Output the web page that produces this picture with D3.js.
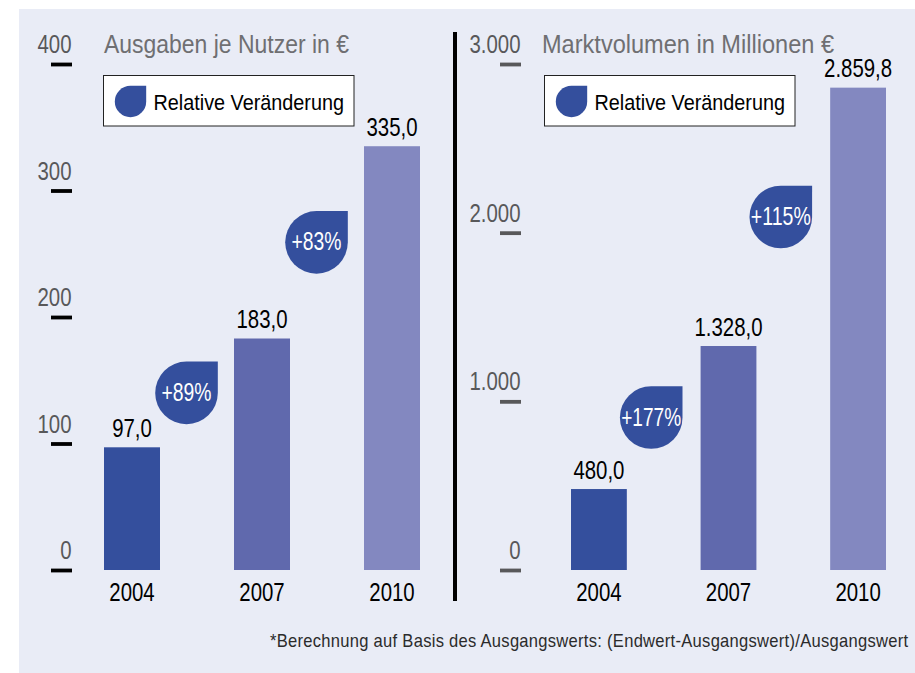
<!DOCTYPE html>
<html><head><meta charset="utf-8">
<script src="https://cdn.jsdelivr.net/npm/d3@7"></script>
<style>
html,body{margin:0;padding:0;background:#fff}
svg{display:block}
text{font-family:"Liberation Sans",sans-serif}
</style></head><body>
<svg id="c" width="915" height="673"></svg>
<script>
const years = ["2004","2007","2010"];
const spendValues = [97.0,183.0,335.0];
const marketValues = [480.0,1328.0,2859.8];
const spendTicks = [0,100,200,300,400];
const marketTicks = [0,1000,2000,3000];
const spendChanges = ["+89%","+83%"];
const marketChanges = ["+177%","+115%"];
const spendChangeLevels = [140,259];
const marketChangeLevels = [904,2093];
const barColors = ["#344f9d","#6069ad","#8388c0"];
const spendTitle = "Ausgaben je Nutzer in €";
const marketTitle = "Marktvolumen in Millionen €";
const legendLabel = "Relative Veränderung";
const footnote = "*Berechnung auf Basis des Ausgangswerts: (Endwert-Ausgangswert)/Ausgangswert";

const svg = d3.select("#c");
svg.append("rect").attr("x",19).attr("y",9).attr("width",896).attr("height",664).attr("fill","#e9ecf6");
const deNum = v => d3.format(",")(v).replace(/,/g,".");
const deVal = v => d3.format(",.1f")(v).replace(/[.,]/g,m=>m==="."?",":".");
const drop = r => `M${r},${-r}L0,${-r}A${r},${r} 0 1 0 ${r},0Z`;
// condense glyphs horizontally: the installed families have no narrow cut
const cond = (sel,f) => sel.each(function(){
  this.setAttribute("textLength",this.getComputedTextLength()*f);
  this.setAttribute("lengthAdjust","spacingAndGlyphs");
});
const fit = (sel,w) => sel.attr("textLength",w).attr("lengthAdjust","spacingAndGlyphs");

function panel(o){
  const y = d3.scaleLinear().domain([0,o.max]).range([570,64]);
  const x = d3.scaleBand().domain(years).range(o.xr).paddingInner(o.pad).paddingOuter(0);
  const g = svg.append("g");
  const ax = g.append("g").attr("transform",`translate(${o.tx},0)`)
    .call(d3.axisLeft(y).tickValues(o.ticks).tickFormat(deNum).tickSize(21).tickPadding(0));
  ax.select(".domain").remove();
  ax.selectAll(".tick line").attr("stroke",o.tickColor).attr("stroke-width",3.8);
  ax.selectAll(".tick text").attr("x",-0.5).attr("dy",null).attr("y",-11.5).attr("text-anchor","end")
    .attr("font-size",25.5).attr("fill","#58585a").attr("font-family",'"Liberation Sans"').call(cond,.8);
  g.append("text").attr("x",o.titleX).attr("y",53).attr("font-size",25)
    .attr("fill","#6f6f72").text(o.title).call(fit,o.titleW);
  const lg = g.append("g").attr("transform",`translate(${o.legendX},75.5)`);
  lg.append("rect").attr("width",250.5).attr("height",50.5).attr("fill","#fff").attr("stroke","#222").attr("stroke-width",1);
  lg.append("path").attr("transform","translate(27,26)").attr("d",drop(15.7)).attr("fill",barColors[0]);
  lg.append("text").attr("x",50).attr("y",34.5).attr("font-size",21.5).attr("fill","#000").text(legendLabel).call(fit,190.5);
  g.selectAll(".bar").data(o.values).join("rect").attr("class","bar")
    .attr("x",(d,i)=>x(years[i])).attr("width",x.bandwidth())
    .attr("y",d=>y(d)).attr("height",d=>y(0)-y(d)).attr("fill",(d,i)=>barColors[i]);
  g.selectAll(".val").data(o.values).join("text").attr("class","val")
    .attr("x",(d,i)=>x(years[i])+x.bandwidth()/2).attr("y",d=>y(d)-10.5)
    .attr("text-anchor","middle").attr("font-size",25.5).attr("fill","#000").text(deVal).call(cond,.8);
  g.selectAll(".yr").data(years).join("text").attr("class","yr")
    .attr("x",d=>x(d)+x.bandwidth()/2).attr("y",601)
    .attr("text-anchor","middle").attr("font-size",25.5).attr("fill","#000").text(d=>d).call(cond,.8);
  const centre = i => (x(years[i])+x(years[i+1])+x.bandwidth())/2 + o.dropShift;
  const dg = g.selectAll(".drop").data(o.changes).join("g").attr("class","drop")
    .attr("transform",(d,i)=>`translate(${centre(i)},${y(o.levels[i])})`);
  dg.append("path").attr("d",drop(31.3)).attr("fill",barColors[0]);
  dg.append("text").attr("text-anchor","middle").attr("x",0).attr("y",8).attr("font-size",26.5)
    .attr("fill","#fff").text(d=>d).call(fit,o.changeW);
}
panel({max:400,ticks:spendTicks,values:spendValues,changes:spendChanges,levels:spendChangeLevels,
  xr:[104,420],pad:74/130,tx:72,tickColor:"#000",title:spendTitle,titleX:104,titleW:245,legendX:103.5,dropShift:-10.5,changeW:50});
panel({max:3000,ticks:marketTicks,values:marketValues,changes:marketChanges,levels:marketChangeLevels,
  xr:[571,886],pad:74/130,tx:521,tickColor:"#58585a",title:marketTitle,titleX:542,titleW:292,legendX:544.5,dropShift:-12.5,changeW:60});
svg.append("rect").attr("x",453).attr("y",32).attr("width",4).attr("height",569).attr("fill","#000");
const fn = svg.append("text").attr("font-size",17.5).attr("fill","#2b2b2b").attr("letter-spacing",.3).text(footnote);
fn.attr("transform",`translate(270,647) scale(${639/fn.node().getComputedTextLength()},1)`);
</script></body></html>
